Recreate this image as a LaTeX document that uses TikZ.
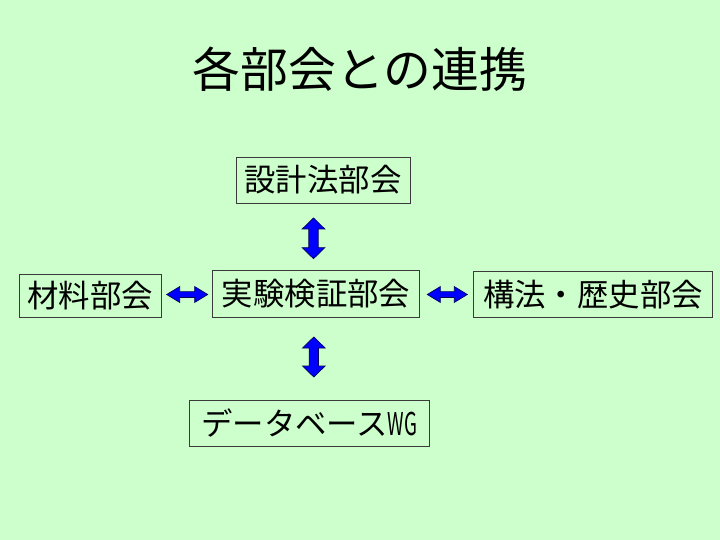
\documentclass[tikz,border=0pt]{standalone}
\usepackage{fontspec}
\newfontfamily\jp{Noto Sans CJK JP}
\usetikzlibrary{calc}
\definecolor{bggreen}{HTML}{CCFFCC}
\definecolor{boxline}{HTML}{3A3A3A}
\definecolor{arrowblue}{HTML}{0000FF}
\definecolor{arrowedge}{HTML}{00005A}
\newcommand\myvarrow[3]{% x, top, bottom
  \fill[arrowblue,draw=arrowedge,line width=0.7bp,line join=miter]
    (#1,#2) -- (#1+11.3,#2+11) -- (#1+4.7,#2+11) -- (#1+4.7,#3-11) -- (#1+11.3,#3-11)
    -- (#1,#3) -- (#1-11.3,#3-11) -- (#1-4.7,#3-11) -- (#1-4.7,#2+11) -- (#1-11.3,#2+11) -- cycle;}
\newcommand\myharrow[3]{% y, left, right
  \fill[arrowblue,draw=arrowedge,line width=0.7bp,line join=miter]
    (#2,#1) -- (#2+13,#1-7.9) -- (#2+13,#1-2.9) -- (#3-13,#1-2.9) -- (#3-13,#1-7.9)
    -- (#3,#1) -- (#3-13,#1+7.9) -- (#3-13,#1+2.9) -- (#2+13,#1+2.9) -- (#2+13,#1+7.9) -- cycle;}
\begin{document}
\begin{tikzpicture}[x=1bp,y=-1bp,
  box/.style={draw=boxline,line width=0.8bp,inner sep=0pt,font=\jp\fontsize{31.5}{36}\selectfont,text=black}]
\fill[bggreen] (0,0) rectangle (720,540);
\useasboundingbox (0,0) rectangle (720,540);
\node[font=\jp\fontsize{48}{54}\selectfont] (title) at (360,69) {各部会との連携};
\node[box,minimum width=174bp,minimum height=46bp] (sekkei) at (323,180) {設計法部会};
\node[box,minimum width=142bp,minimum height=43bp] (zairyo) at (90,295.5) {材料部会};
\node[box,minimum width=207bp,minimum height=47bp] (jikken) at (316,293.5) {実験検証部会};
\node[box,minimum width=239bp,minimum height=46bp] (kouhou) at (593,294.5) {構法・歴史部会};
\node[box,minimum width=240bp,minimum height=45.5bp] (db) at (309.3,423.3) {データベース\scalebox{0.6}[1]{WG}};
\myvarrow{313.5}{218}{258.7}
\myvarrow{313.8}{337}{377}
\myharrow{294.5}{166.7}{207.7}
\myharrow{294.5}{427.3}{467.3}
\end{tikzpicture}
\end{document}
